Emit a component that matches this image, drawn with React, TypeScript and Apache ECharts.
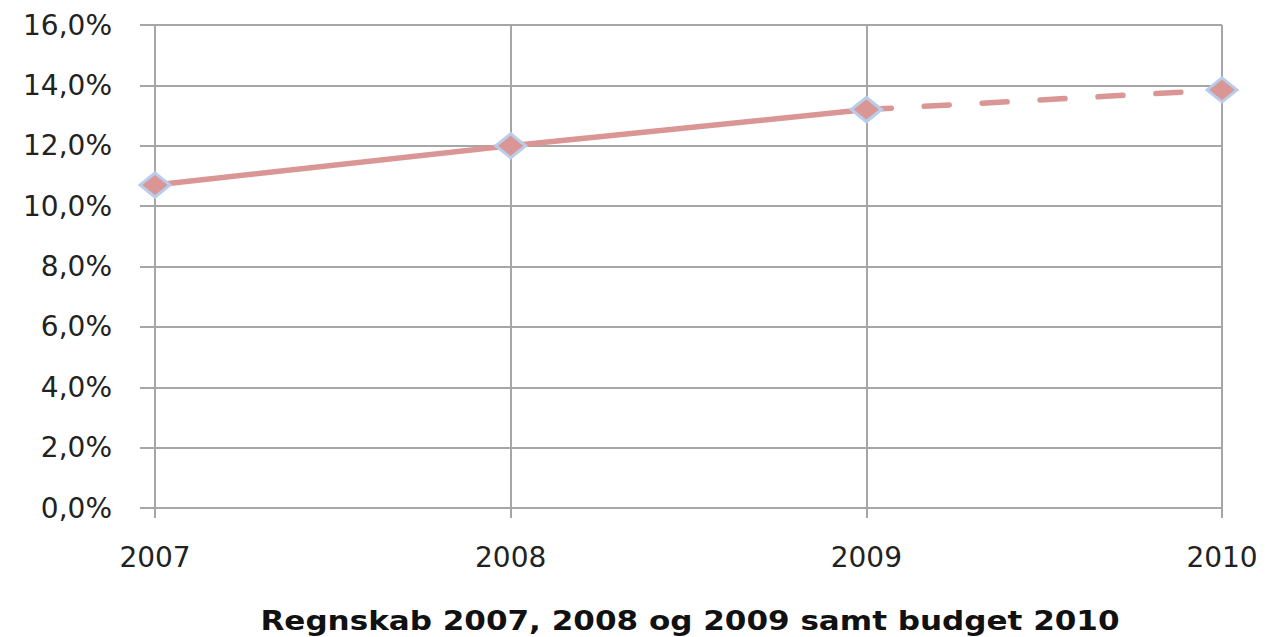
import React, { useEffect, useRef } from "react";
import * as echarts from "echarts";

const categories = ["2007", "2008", "2009", "2010"];
const actualValues = [10.7, 12.0, 13.2, null];
const budgetValues = [null, null, 13.2, 13.85];
const yTicks = { min: 0, max: 16, interval: 2 };
const axisTitle = "Regnskab 2007, 2008 og 2009 samt budget 2010";

const lineColor = "#D99694";
const markerBorder = "#B9CDEB";
const gridColor = "#A6A6A6";

export default function App() {
  const ref = useRef<HTMLDivElement>(null);
  useEffect(() => {
    const chart = echarts.init(ref.current!, null, { renderer: "svg" });
    const markerStyle = { color: lineColor, borderColor: markerBorder, borderWidth: 3 };
    chart.setOption({
      animation: false,
      backgroundColor: "#fff",
      grid: { left: 155, right: 47, top: 25, bottom: 129, containLabel: false, outerBoundsMode: "none" },
      graphic: [
        {
          type: "text",
          x: 690,
          y: 621,
          scaleX: 1.15,
          style: {
            text: axisTitle,
            fill: "#111",
            fontSize: 27,
            fontWeight: "bold",
            fontFamily: "DejaVu Sans",
            textAlign: "center",
            textVerticalAlign: "middle",
          },
        },
      ],
      xAxis: {
        type: "category",
        data: categories,
        boundaryGap: false,
        axisLine: { lineStyle: { color: gridColor, width: 2 } },
        axisTick: { show: true, length: 10, alignWithLabel: true, lineStyle: { color: gridColor, width: 2 } },
        axisLabel: { color: "#222", fontSize: 28, fontFamily: "DejaVu Sans", margin: 35 },
        splitLine: { show: true, lineStyle: { color: gridColor, width: 2 } },
      },
      yAxis: {
        type: "value",
        min: yTicks.min,
        max: yTicks.max,
        interval: yTicks.interval,
        axisLine: { show: true, lineStyle: { color: gridColor, width: 2 } },
        axisTick: { show: true, length: 15, lineStyle: { color: gridColor, width: 2 } },
        axisLabel: {
          color: "#222",
          fontSize: 28,
          fontFamily: "DejaVu Sans",
          margin: 43,
          formatter: (v: number) => v.toFixed(1).replace(".", ",") + "%",
        },
        splitLine: { show: true, lineStyle: { color: gridColor, width: 2 } },
      },
      series: [
        {
          type: "line",
          data: actualValues,
          lineStyle: { color: lineColor, width: 5.5 },
          symbol: "diamond",
          symbolSize: [30, 24],
          itemStyle: markerStyle,
          z: 3,
        },
        {
          type: "line",
          data: budgetValues,
          lineStyle: { color: lineColor, width: 5.5, type: [25, 33], cap: "round" },
          symbol: "diamond",
          symbolSize: [30, 24],
          itemStyle: markerStyle,
          z: 2,
        },
      ],
    });
    return () => chart.dispose();
  }, []);
  return (
    <div
      ref={ref}
      style={{ position: "fixed", left: 0, top: 0, width: 1269, height: 637 }}
    />
  );
}
